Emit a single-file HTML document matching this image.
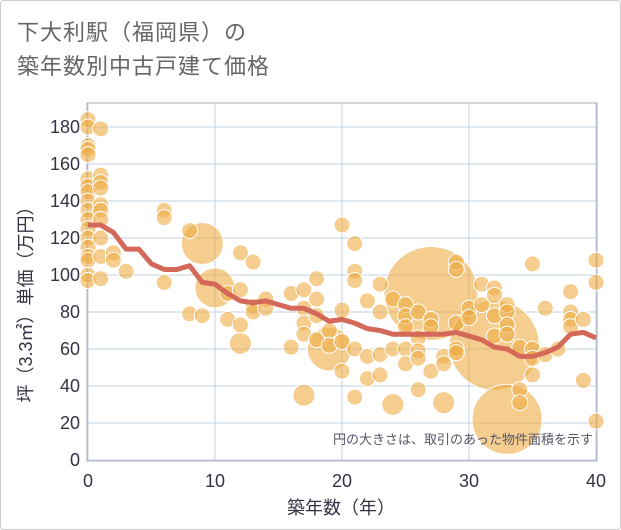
<!DOCTYPE html>
<html><head><meta charset="utf-8">
<style>
html,body{margin:0;padding:0;background:#fff;}
body{width:621px;height:530px;overflow:hidden;font-family:"Liberation Sans","Noto Sans CJK JP",sans-serif;}
.card{position:absolute;left:0;top:0;width:619px;height:528px;border:1px solid #ccc;border-radius:4px;}
.title{position:absolute;left:17px;top:16px;font-size:22px;line-height:34px;color:#666;letter-spacing:1px;}
</style></head>
<body>
<div class="card"></div>
<div class="title">下大利駅（福岡県）の<br>築年数別中古戸建て価格</div>
<svg id="chart" width="621" height="530" style="position:absolute;left:0;top:0"></svg>
<script>
const xTicks=[0,10,20,30,40];
const yTicks=[0,20,40,60,80,100,120,140,160,180];
const trendAges=[0,1,2,3,4,5,6,7,8,9,10,11,12,13,14,15,16,17,18,19,20,21,22,23,24,25,26,27,28,29,30,31,32,33,34,35,36,37,38,39,40];
const trendPrices=[127,127,123,114,114,106,103,103,105,96,95,90,86,85,86,84,82,82,79,75,76,74,71,70,68,68,68,68,68,69,67,65,61,60,56,56,58,61,68,69,66];
const bubbleAges=[0,0,0,0,0,0,0,0,0,0,0,0,0,0,0,0,0,0,1,1,1,1,1,1,1,1,1,1,2,2,3,6,6,6,8,8,9,11,11,12,12,12,12,13,13,13,14,14,16,16,17,17,17,17,18,18,18,18,19,19,20,20,20,20,21,21,21,21,21,22,22,22,23,23,23,23,24,24,25,25,25,25,25,26,26,26,26,26,27,27,27,28,28,29,29,29,29,29,30,30,31,31,32,32,32,32,33,33,33,33,34,34,34,35,35,35,35,36,36,37,38,38,38,38,39,39,40,40,40,27,32,33,10,9,19,17,24,28];
const bubblePrices=[184,180,170,168,165,152,148,145,140,135,130,125,120,115,110,108,100,97,179,154,150,147,138,135,130,120,110,98,112,108,102,135,131,96,124,79,78,90,76,112,92,73,63,107,83,80,87,82,90,61,92,82,74,68,98,87,78,65,70,62,127,81,64,48,117,102,97,60,34,86,56,44,95,80,57,46,87,60,84,78,72,60,52,80,66,59,55,38,76,72,48,56,52,107,103,74,60,58,82,77,95,84,93,89,78,67,84,80,73,68,61,38,31,106,60,55,46,82,57,60,91,80,76,72,76,43,108,96,21,90,62,22,93,117,60,35,30,31];
const bubbleSizes=[8,8,8,8,8,8,8,8,8,8,8,8,8,8,8,8,8,8,8,8,8,8,8,8,8,8,8,8,8,8,8,8,8,8,8,8,8,8,8,8,8,8,11,8,8,8,8,8,8,8,8,8,8,8,8,8,8,8,8,8,8,8,8,8,8,8,8,8,8,8,8,8,8,8,8,8,8,8,8,8,8,8,8,8,8,8,8,8,8,8,8,8,8,8,8,8,8,8,8,8,8,8,8,8,8,8,8,8,8,8,8,8,8,8,8,8,8,8,8,8,8,8,8,8,8,8,8,8,8,47,45,35,20,21,22,11,11,11];
const svg=document.getElementById('chart');
const NS='http://www.w3.org/2000/svg';
const L=87,R=597,T=103,B=461;
const xS=v=>88+v*(596-88)/40;
const yS=v=>460-v*(460-127)/180;
function mk(tag,attrs){const e=document.createElementNS(NS,tag);for(const k in attrs)e.setAttribute(k,attrs[k]);svg.appendChild(e);return e;}
let e;
e=mk('rect',{x:L,y:T,width:R-L,height:B-T,fill:'#fff'});


yTicks.forEach(v=>{
 e=mk('line',{x1:L,x2:R,y1:yS(v),y2:yS(v),stroke:'#d5e0ea','stroke-width':1.5});
 
 
 e=mk('text',{x:80,y:yS(v)+6,'text-anchor':'end','font-size':18,fill:'#334'});
 e.textContent=v;
 
 
});
xTicks.forEach(v=>{
 e=mk('line',{x1:xS(v),x2:xS(v),y1:T,y2:B,stroke:'#c5d0dc','stroke-width':1});
 
 
 e=mk('text',{x:xS(v),y:487,'text-anchor':'middle','font-size':18,fill:'#334'});
 e.textContent=v;
 
 
});
e=mk('rect',{x:L,y:T,width:R-L,height:B-T,fill:'none',stroke:'#aab','stroke-width':1});


const order=bubbleSizes.map((s,i)=>i).sort((a,b)=>bubbleSizes[b]-bubbleSizes[a]);
order.forEach(i=>{
 e=mk('circle',{cx:xS(bubbleAges[i]),cy:yS(bubblePrices[i]),r:bubbleSizes[i],fill:'rgba(236,172,68,0.6)',stroke:'#fff','stroke-width':1});
 
 
});
e=mk('polyline',{points:trendAges.map((a,i)=>xS(a)+','+yS(trendPrices[i])).join(' '),fill:'none',stroke:'#d4695a','stroke-width':5,'stroke-linejoin':'round'});


e=mk('text',{x:593,y:444,'text-anchor':'end','font-size':13,fill:'#556'});
e.textContent='円の大きさは、取引のあった物件面積を示す';


e=mk('text',{x:341,y:514,'text-anchor':'middle','font-size':18,fill:'#334'});
e.textContent='築年数（年）';


e=mk('text',{x:0,y:0,'text-anchor':'middle','font-size':18,fill:'#334',transform:'translate(32,300) rotate(-90)'});
e.textContent='坪（3.3㎡）単価（万円）';


</script>
</body></html>
